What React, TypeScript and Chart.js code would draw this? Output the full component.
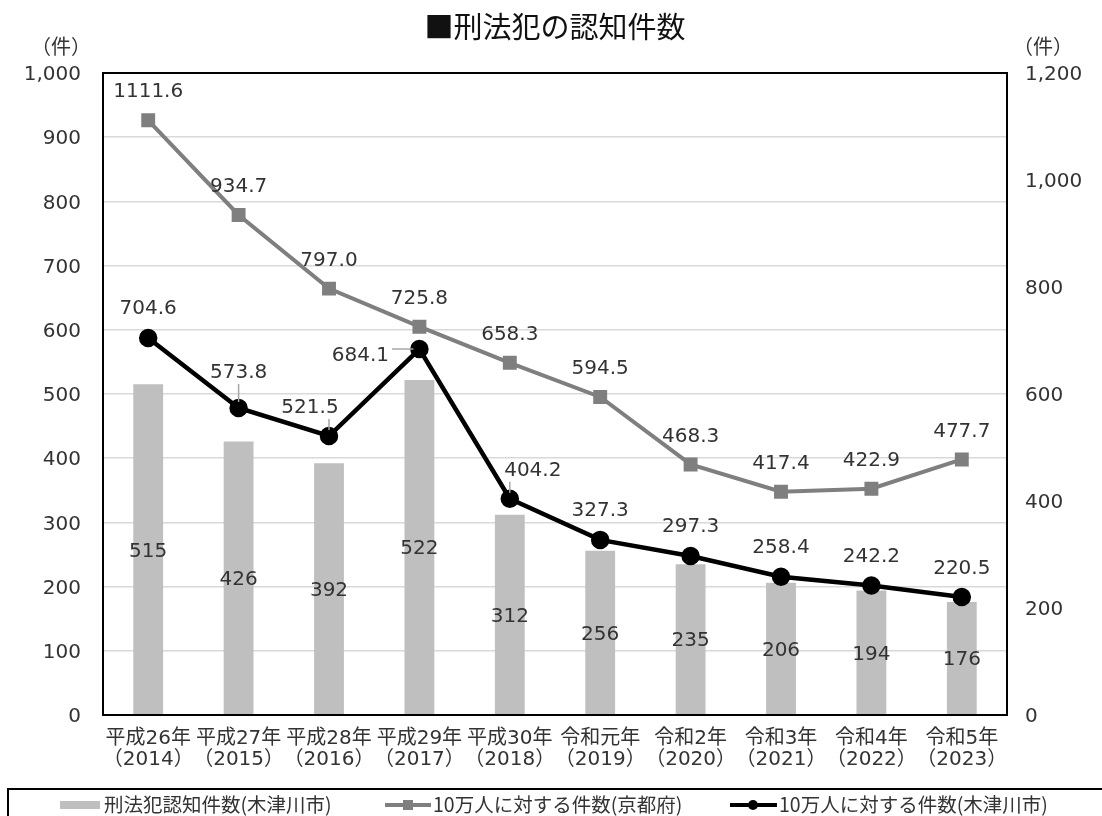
import React, { useEffect, useRef } from 'react';
import { Chart, registerables } from 'chart.js';

Chart.register(...registerables);

const FONT = "'DejaVu Sans', 'Noto Sans CJK JP', sans-serif";
const CJK = "'Noto Sans CJK JP', 'Noto Sans', sans-serif";

// ---- data ----
const eraLabels = ['平成26年', '平成27年', '平成28年', '平成29年', '平成30年', '令和元年', '令和2年', '令和3年', '令和4年', '令和5年'];
const yearLabels = ['（2014）', '（2015）', '（2016）', '（2017）', '（2018）', '（2019）', '（2020）', '（2021）', '（2022）', '（2023）'];
const crimeCounts = [515, 426, 392, 522, 312, 256, 235, 206, 194, 176];
const kyotoRate = [1111.6, 934.7, 797.0, 725.8, 658.3, 594.5, 468.3, 417.4, 422.9, 477.7];
const kizugawaRate = [704.6, 573.8, 521.5, 684.1, 404.2, 327.3, 297.3, 258.4, 242.2, 220.5];
const leftAxis = { min: 0, max: 1000, step: 100 };
const rightAxis = { min: 0, max: 1200, step: 200 };

const titleText = '■刑法犯の認知件数';
const unitText = '（件）';
const seriesNames = ['刑法犯認知件数(木津川市)', '10万人に対する件数(京都府)', '10万人に対する件数(木津川市)'];

// ---- label styling (offsets from marker, px) ----
const kizuLabelOffsets: number[][] = [[0, -31], [0, -37], [-19, -30], [-59, 5], [23, -30], [0, -31], [0, -31], [0, -31], [0, -31], [0, -30]];
const kizuLeader = [false, true, true, true, true, false, false, false, false, false];
const kyotoLabelOffset = -30;
const TEXT_NUDGE = 2;

const TEXT = '#333333';
const BAR = '#bfbfbf';
const GRAY = '#7f7f7f';

function fmt(v: number) {
  return v.toLocaleString('en-US');
}

const overlayPlugin = {
  id: 'overlay',
  afterDraw(chart: any) {
    const ctx = chart.ctx as CanvasRenderingContext2D;
    const ca = chart.chartArea;
    ctx.save();

    // plot border
    ctx.strokeStyle = '#000';
    ctx.lineWidth = 2;
    ctx.strokeRect(ca.left, ca.top, ca.right - ca.left, ca.bottom - ca.top);

    // title
    ctx.fillStyle = '#111';
    ctx.textAlign = 'center';
    ctx.textBaseline = 'middle';
    ctx.font = `29px ${CJK}`;
    ctx.fillText(titleText, 555, 27);

    // unit labels
    ctx.fillStyle = TEXT;
    ctx.font = `20px ${CJK}`;
    ctx.fillText(unitText, 61, 46);
    ctx.fillText(unitText, 1043, 46);

    ctx.font = `20px ${FONT}`;
    // bar labels (centered in bar)
    const barMeta = chart.getDatasetMeta(0);
    barMeta.data.forEach((el: any, i: number) => {
      const cy = (el.y + el.base) / 2 + TEXT_NUDGE;
      ctx.fillText(String(crimeCounts[i]), el.x, cy);
    });

    // Kyoto labels
    const kyMeta = chart.getDatasetMeta(1);
    kyMeta.data.forEach((el: any, i: number) => {
      ctx.fillText(kyotoRate[i].toFixed(1), el.x, el.y + kyotoLabelOffset + TEXT_NUDGE);
    });

    // Kizugawa labels
    const kzMeta = chart.getDatasetMeta(2);
    kzMeta.data.forEach((el: any, i: number) => {
      const [dx, dy] = kizuLabelOffsets[i];
      const text = kizugawaRate[i].toFixed(1);
      const lx = el.x + dx;
      const ly = el.y + dy;
      if (kizuLeader[i]) {
        const w = ctx.measureText(text).width;
        const h = 20;
        const bx0 = lx - w / 2, bx1 = lx + w / 2, by0 = ly - h / 2, by1 = ly + h / 2;
        const sx = Math.min(Math.max(el.x, bx0), bx1);
        const sy = Math.min(Math.max(el.y, by0), by1);
        const vx = el.x - sx, vy = el.y - sy;
        const len = Math.hypot(vx, vy);
        if (len > 12) {
          const ux = vx / len, uy = vy / len;
          ctx.strokeStyle = '#a6a6a6';
          ctx.lineWidth = 1.5;
          ctx.beginPath();
          ctx.moveTo(sx + ux * 3, sy + uy * 3);
          ctx.lineTo(el.x - ux * 6, el.y - uy * 6);
          ctx.stroke();
        }
      }
      ctx.fillStyle = TEXT;
      ctx.fillText(text, lx, ly + TEXT_NUDGE);
    });

    // legend box
    ctx.strokeStyle = '#000';
    ctx.lineWidth = 2;
    ctx.strokeRect(8, 789, 1200, 100);
    const ly = 805;
    ctx.font = `19.5px ${CJK}`;
    ctx.textAlign = 'left';
    ctx.fillStyle = BAR;
    ctx.fillRect(60, 801, 40, 8);
    ctx.fillStyle = TEXT;
    ctx.fillText(seriesNames[0], 104, ly);

    ctx.strokeStyle = GRAY;
    ctx.lineWidth = 4;
    ctx.beginPath();
    ctx.moveTo(385, ly);
    ctx.lineTo(431, ly);
    ctx.stroke();
    ctx.fillStyle = GRAY;
    ctx.fillRect(403, ly - 5, 10, 10);
    ctx.fillStyle = TEXT;
    ctx.fillText(seriesNames[1], 433, ly);

    ctx.strokeStyle = '#000';
    ctx.lineWidth = 4;
    ctx.beginPath();
    ctx.moveTo(730, ly);
    ctx.lineTo(777, ly);
    ctx.stroke();
    ctx.fillStyle = '#000';
    ctx.beginPath();
    ctx.arc(753, ly, 5, 0, Math.PI * 2);
    ctx.fill();
    ctx.fillStyle = TEXT;
    ctx.fillText(seriesNames[2], 779, ly);

    ctx.restore();
  },
};

export default function App() {
  const ref = useRef<HTMLCanvasElement>(null);

  useEffect(() => {
    if (!ref.current) return;
    const labels = eraLabels.map((e, i) => [e, yearLabels[i]]);
    const chart = new Chart(ref.current, {
      type: 'bar',
      data: {
        labels,
        datasets: [
          {
            type: 'bar',
            label: seriesNames[0],
            data: crimeCounts,
            backgroundColor: BAR,
            yAxisID: 'y',
            barPercentage: 0.33,
            categoryPercentage: 1,
            order: 3,
          } as any,
          {
            type: 'line',
            label: seriesNames[1],
            data: kyotoRate,
            borderColor: GRAY,
            backgroundColor: GRAY,
            borderWidth: 4,
            pointStyle: 'rect',
            pointRadius: 7,
            pointBackgroundColor: GRAY,
            pointBorderColor: GRAY,
            yAxisID: 'y1',
            order: 2,
          } as any,
          {
            type: 'line',
            label: seriesNames[2],
            data: kizugawaRate,
            borderColor: '#000',
            backgroundColor: '#000',
            borderWidth: 4.5,
            pointStyle: 'circle',
            pointRadius: 7,
            pointBackgroundColor: '#000',
            pointBorderColor: '#000',
            yAxisID: 'y1',
            order: 1,
          } as any,
        ],
      },
      options: {
        responsive: false,
        animation: false,
        layout: { padding: { top: 73, left: 0, right: 0, bottom: 0 } },
        plugins: {
          legend: { display: false },
          title: { display: false },
          tooltip: { enabled: false },
        },
        scales: {
          x: {
            grid: { display: false, drawTicks: false },
            border: { display: false },
            ticks: {
              color: TEXT,
              font: { family: FONT, size: 20, lineHeight: 1.02 },
              padding: 14,
              maxRotation: 0,
              minRotation: 0,
              autoSkip: false,
            },
            afterFit: (s: any) => {
              s.height = 101;
            },
          },
          y: {
            position: 'left',
            min: leftAxis.min,
            max: leftAxis.max,
            grid: { color: '#d9d9d9', lineWidth: 1.5, drawTicks: false },
            border: { display: false },
            ticks: {
              stepSize: leftAxis.step,
              color: TEXT,
              font: { family: FONT, size: 20 },
              padding: 22,
              labelOffset: TEXT_NUDGE,
              callback: (v: any) => fmt(Number(v)),
            },
            afterFit: (s: any) => {
              s.width = 103;
            },
          },
          y1: {
            position: 'right',
            min: rightAxis.min,
            max: rightAxis.max,
            grid: { display: false, drawTicks: false },
            border: { display: false },
            ticks: {
              stepSize: rightAxis.step,
              color: TEXT,
              font: { family: FONT, size: 20 },
              padding: 18,
              labelOffset: TEXT_NUDGE,
              callback: (v: any) => fmt(Number(v)),
            },
            afterFit: (s: any) => {
              s.width = 95;
            },
          },
        },
      } as any,
      plugins: [overlayPlugin],
    });
    return () => chart.destroy();
  }, []);

  return (
    <canvas
      ref={ref}
      width={1102}
      height={816}
      style={{ position: 'absolute', left: 0, top: 0, width: 1102, height: 816, background: '#fff' }}
    />
  );
}
